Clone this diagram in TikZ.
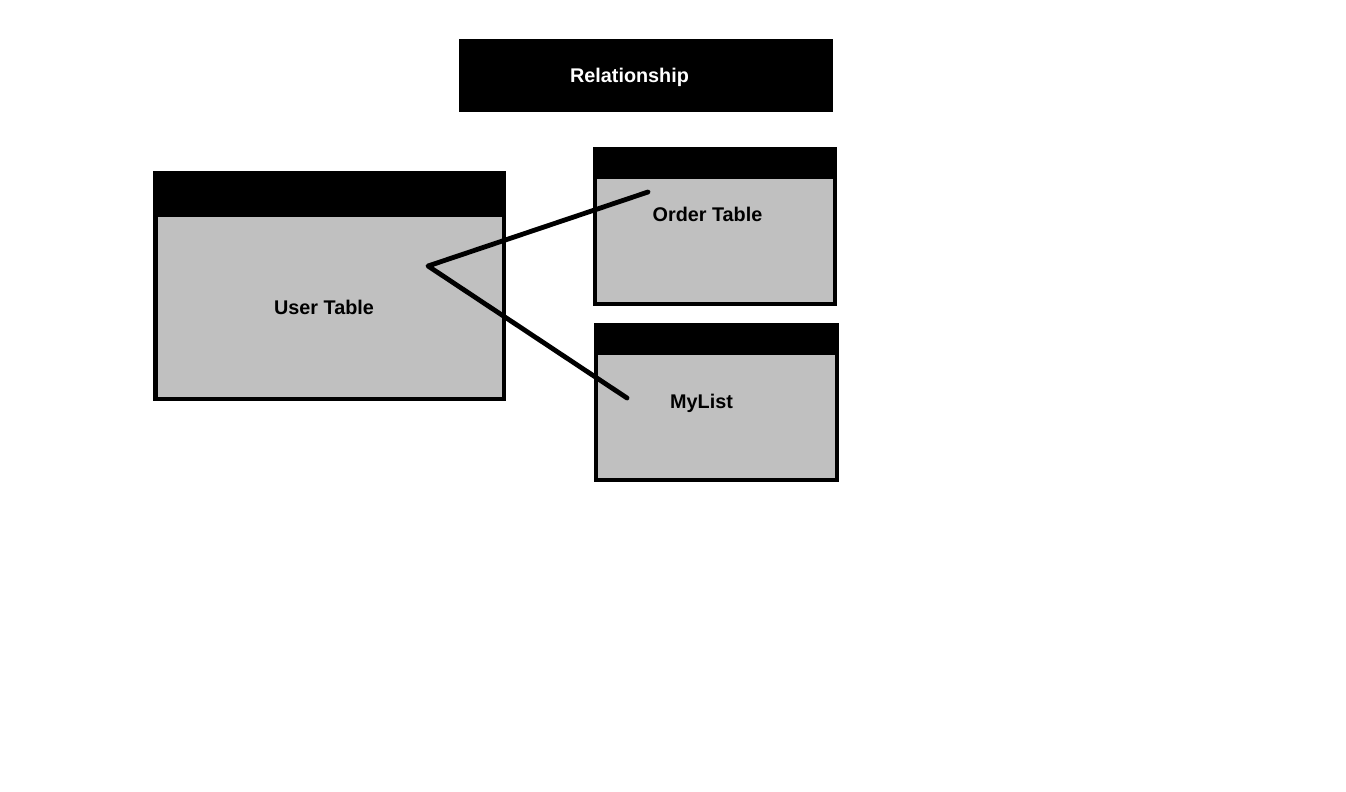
\documentclass[tikz,border=0pt]{standalone}
\usepackage{fontspec}
\setmainfont{Liberation Sans}
\definecolor{bodygray}{HTML}{C0C0C0}
\tikzset{
  tablebody/.style={fill=bodygray, draw=black, line width=4.5pt},
  header/.style={fill=black},
  label/.style={font=\bfseries\fontsize{19.8}{22}\selectfont, anchor=base, inner sep=0pt},
  link/.style={draw=black, line width=4.8pt, line cap=round, line join=round}
}
\begin{document}
\begin{tikzpicture}[x=1pt, y=-1pt]
\useasboundingbox (0,0) rectangle (1346,792);
% Relationship title
\fill[black] (459,39) rectangle (833,112);
\node[label, text=white] (rel) at (629.5,82) {Relationship};
% User Table
\draw[tablebody] (155.25,173.25) rectangle (503.75,398.75);
\fill[header] (153,171) rectangle (506,217);
\node[label] (user) at (324,314) {User Table};
% Order Table
\draw[tablebody, line width=4pt] (595,149) rectangle (835,304);
\fill[header] (593,147) rectangle (837,179);
\node[label] (order) at (707.5,221) {Order Table};
% MyList
\draw[tablebody, line width=4pt] (596,325) rectangle (837,480);
\fill[header] (594,323) rectangle (839,355);
\node[label] (mylist) at (701.5,408) {MyList};
% connectors
\coordinate (hub) at (428,266);
\coordinate (orderend) at (648,192);
\coordinate (listend) at (627,398);
\draw[link] (orderend) -- (hub) -- (listend);
\end{tikzpicture}
\end{document}
